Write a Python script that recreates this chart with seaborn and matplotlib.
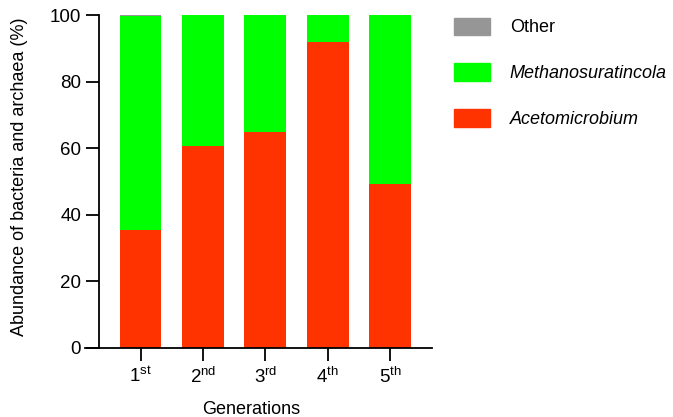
import pandas as pd
import matplotlib
matplotlib.use('Agg')
import matplotlib.pyplot as plt
import matplotlib.patches as mpatches
import seaborn as sns

# Data (percent)
generations = ['1$^{st}$', '2$^{nd}$', '3$^{rd}$', '4$^{th}$', '5$^{th}$']
acetomicrobium = [35.4, 60.7, 64.9, 92.0, 49.2]
other = [0.3, 0.0, 0.0, 0.0, 0.0]
methanosuratincola = [100 - a - o for a, o in zip(acetomicrobium, other)]

df = pd.DataFrame({'gen': generations,
                   'aceto': acetomicrobium,
                   'methano': methanosuratincola,
                   'other': other})
df['methano_top'] = df['aceto'] + df['methano']
df['other_top'] = df['methano_top'] + df['other']

c_other = '#969696'
c_methano = '#00FF00'
c_aceto = '#FF3300'

sns.set_style('ticks', {'text.color': 'black', 'axes.labelcolor': 'black',
                        'xtick.color': 'black', 'ytick.color': 'black'})
plt.rcParams['font.family'] = ['Liberation Sans', 'DejaVu Sans']
plt.rcParams['mathtext.default'] = 'regular'

fig = plt.figure(figsize=(6.73, 4.17), dpi=100)
ax = fig.add_axes([0.1263, 0.1655, 0.5156, 0.7985])

# stacked bars: draw cumulative tops first, then the lower layers over them
for col, c in [('other_top', c_other), ('methano_top', c_methano), ('aceto', c_aceto)]:
    sns.barplot(data=df, x='gen', y=col, color=c, width=0.67,
                saturation=1, linewidth=0, ax=ax)

ax.set_ylim(0, 100)
ax.set_xlim(-0.89, 4.67)
ax.set_yticks([0, 20, 40, 60, 80, 100])
ax.spines['left'].set_position(('data', -0.665))
ax.spines['right'].set_visible(False)
ax.spines['top'].set_visible(False)
for s in ['left', 'bottom']:
    ax.spines[s].set_linewidth(1.3)
    ax.spines[s].set_color('black')
ax.tick_params(axis='both', length=9.4, width=1.3, labelsize=13.5,
               color='black', labelcolor='black')
ax.tick_params(axis='x', pad=4)

ax.set_xlabel('Generations', fontsize=13, color='black')
ax.set_ylabel('Abundance of bacteria and archaea (%)', fontsize=13, color='black')
ax.yaxis.set_label_coords(-0.165, 0.515)
ax.xaxis.set_label_coords(0.478, -0.16)

handles = [mpatches.Patch(color=c_other),
           mpatches.Patch(color=c_methano),
           mpatches.Patch(color=c_aceto)]
leg = fig.legend(handles, ['Other', 'Methanosuratincola', 'Acetomicrobium'],
                 loc='upper left', bbox_to_anchor=(0.65, 0.997),
                 frameon=False, fontsize=13, handlelength=2.0,
                 handleheight=1.1, handletextpad=1.1, labelspacing=1.5)
for t in leg.get_texts():
    t.set_color('black')
for t in leg.get_texts()[1:]:
    t.set_fontstyle('italic')

fig.savefig('out.png', dpi=100)
